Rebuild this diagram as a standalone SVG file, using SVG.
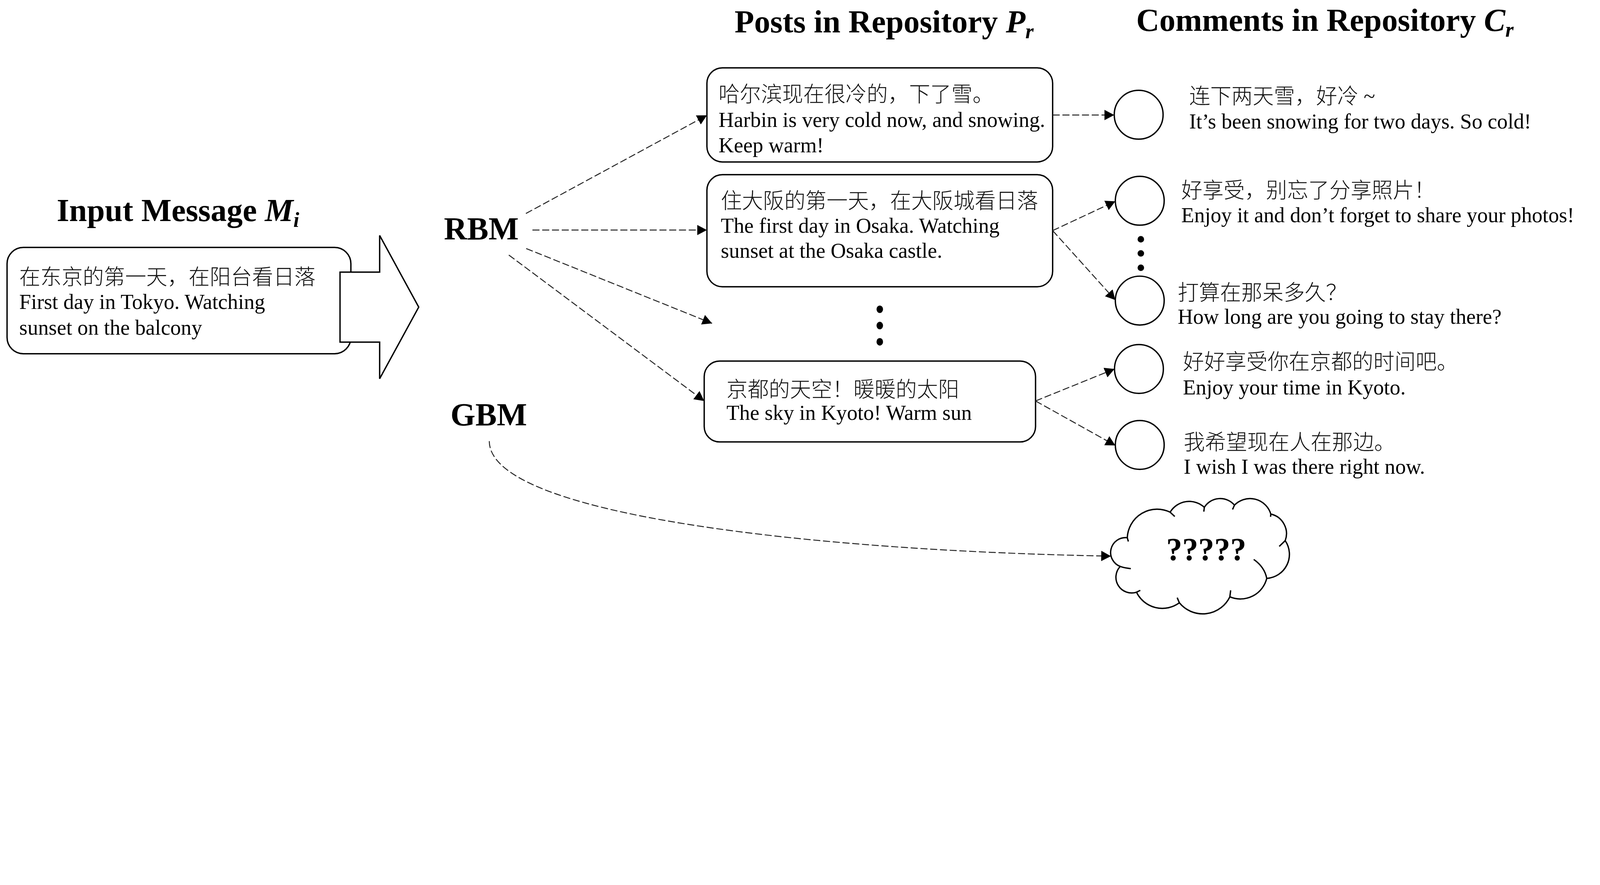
<svg xmlns="http://www.w3.org/2000/svg" width="5896" height="2266" viewBox="0 0 5896 2266" style="max-width:100%;height:auto">
<style>
text{font-family:"Liberation Serif","Noto Sans CJK SC",serif;fill:#000}
.t{font-size:78px}
.zh{font-weight:300;fill:#111}
.h{font-size:118px;font-weight:bold}
.box{fill:#fff;stroke:#000;stroke-width:5}
.circ{fill:#fff;stroke:#000;stroke-width:5}
.con{fill:none;stroke:#222;stroke-width:3.5;stroke-dasharray:26 10}
.dot{fill:#000}
</style>
<defs>
<marker id="ah" markerUnits="userSpaceOnUse" markerWidth="36" markerHeight="38" refX="36" refY="19" orient="auto">
<path d="M0 0 L36 19 L0 38 Z" fill="#000"/>
</marker>
</defs>
<rect width="5896" height="2266" fill="#fff"/>

<g id="headers">
<text class="h" x="209" y="815">Input Message <tspan font-style="italic">M</tspan><tspan font-style="italic" font-size="78" dy="22">i</tspan></text>
<text class="h" x="2707" y="119">Posts in Repository <tspan font-style="italic">P</tspan><tspan font-style="italic" font-size="78" dy="22">r</tspan></text>
<text class="h" x="4187" y="114">Comments in Repository <tspan font-style="italic">C</tspan><tspan font-style="italic" font-size="78" dy="22">r</tspan></text>
</g>

<g id="input-message">
<rect class="box" x="26" y="912" width="1267" height="392" rx="60" ry="60"/>
<text class="t zh" x="71" y="1048">在东京的第一天，在阳台看日落</text>
<text class="t" x="71" y="1139">First day in Tokyo. Watching</text>
<text class="t" x="71" y="1234">sunset on the balcony</text>
</g>

<g id="block-arrow">
<path d="M1253 1003 L1399 1003 L1399 868 L1543 1132 L1399 1396 L1399 1261 L1253 1261 Z" fill="#fff" stroke="#000" stroke-width="5" stroke-linejoin="miter"/>
</g>

<g id="rbm"><text class="h" x="1636" y="883">RBM</text></g>
<g id="gbm"><text class="h" x="1660" y="1568">GBM</text></g>

<g id="post1">
<rect class="box" x="2605" y="250" width="1274" height="347" rx="57" ry="57"/>
<text class="t zh" x="2648" y="375">哈尔滨现在很冷的，下了雪。</text>
<text class="t" x="2648" y="468">Harbin is very cold now, and snowing.</text>
<text class="t" x="2648" y="562">Keep warm!</text>
</g>

<g id="post2">
<rect class="box" x="2605" y="644" width="1274" height="413" rx="57" ry="57"/>
<text class="t zh" x="2656" y="768">住大阪的第一天，在大阪城看日落</text>
<text class="t" x="2656" y="858">The first day in Osaka. Watching</text>
<text class="t" x="2656" y="950">sunset at the Osaka castle.</text>
</g>

<g id="post-dots">
<ellipse class="dot" cx="3242" cy="1140" rx="12" ry="14"/>
<ellipse class="dot" cx="3242" cy="1200" rx="12" ry="14"/>
<ellipse class="dot" cx="3242" cy="1260" rx="12" ry="14"/>
</g>

<g id="post3">
<rect class="box" x="2595" y="1331" width="1221" height="298" rx="57" ry="57"/>
<text class="t zh" x="2677" y="1463">京都的天空！暖暖的太阳</text>
<text class="t" x="2677" y="1548">The sky in Kyoto! Warm sun</text>
</g>

<g id="comment1">
<circle class="circ" cx="4196" cy="423" r="90"/>
<text class="t zh" x="4382" y="382">连下两天雪，好冷 ~</text>
<text class="t" x="4382" y="473">It’s been snowing for two days. So cold!</text>
</g>

<g id="comment2">
<circle class="circ" cx="4200" cy="740" r="90"/>
<text class="t zh" x="4353" y="728">好享受，别忘了分享照片！</text>
<text class="t" x="4353" y="819">Enjoy it and don’t forget to share your photos!</text>
</g>

<g id="comment-dots">
<circle class="dot" cx="4204" cy="882" r="12"/>
<circle class="dot" cx="4204" cy="934" r="12"/>
<circle class="dot" cx="4204" cy="987" r="12"/>
</g>

<g id="comment3">
<circle class="circ" cx="4200" cy="1108" r="90"/>
<text class="t zh" x="4340" y="1106">打算在那呆多久？</text>
<text class="t" x="4340" y="1194">How long are you going to stay there?</text>
</g>

<g id="comment4">
<circle class="circ" cx="4197" cy="1360" r="90"/>
<text class="t zh" x="4359" y="1361">好好享受你在京都的时间吧。</text>
<text class="t" x="4359" y="1454">Enjoy your time in Kyoto.</text>
</g>

<g id="comment5">
<circle class="circ" cx="4200" cy="1640" r="90"/>
<text class="t zh" x="4362" y="1657">我希望现在人在那边。</text>
<text class="t" x="4362" y="1746">I wish I was there right now.</text>
</g>

<g id="cloud">
<path d="M4154 1982 A110 110 0 0 1 4312 1888 A82 82 0 0 1 4438 1870 A69 69 0 0 1 4549 1862 A80 80 0 0 1 4683 1895 A74 74 0 0 1 4736 1993 A89 89 0 0 1 4668 2132 A100 100 0 0 1 4532 2200 A111 111 0 0 1 4346 2222 A106 106 0 0 1 4188 2183 A58 58 0 0 1 4128 2088 A55 55 0 0 1 4154 1982 Z" fill="#fff" stroke="#000" stroke-width="5" stroke-linejoin="round"/>
<path d="M4154 1982 L4158 1996 M4128 2088 Q4146 2094 4167 2096 M4188 2183 L4202 2176 M4338 2203 Q4342 2213 4346 2222 M4535 2176 L4532 2200 M4668 2132 Q4660 2090 4620 2062 M4736 1993 L4714 2014 M4682 1905 L4683 1895 M4542 1878 L4549 1862 M4436 1886 L4438 1870 M4329 1904 L4312 1888" fill="none" stroke="#000" stroke-width="5" stroke-linecap="butt"/>
<text class="h" x="4445" y="2065" text-anchor="middle">?????</text>
</g>

<g id="connectors">
<line class="con" x1="1938" y1="787" x2="2605" y2="425" marker-end="url(#ah)"/>
<line class="con" x1="1962" y1="848" x2="2605" y2="848" marker-end="url(#ah)"/>
<line class="con" x1="1939" y1="916" x2="2624" y2="1192" marker-end="url(#ah)"/>
<line class="con" x1="1875" y1="940" x2="2595" y2="1478" marker-end="url(#ah)"/>
<line class="con" x1="3879" y1="424" x2="4106" y2="424" marker-end="url(#ah)"/>
<line class="con" x1="3879" y1="850" x2="4110" y2="742" marker-end="url(#ah)"/>
<line class="con" x1="3879" y1="850" x2="4110" y2="1106" marker-end="url(#ah)"/>
<line class="con" x1="3816" y1="1478" x2="4107" y2="1360" marker-end="url(#ah)"/>
<line class="con" x1="3816" y1="1478" x2="4110" y2="1642" marker-end="url(#ah)"/>
<path class="con" d="M1803 1626 C1803 1900 3000 2030 4094 2050" marker-end="url(#ah)"/>
</g>
</svg>
